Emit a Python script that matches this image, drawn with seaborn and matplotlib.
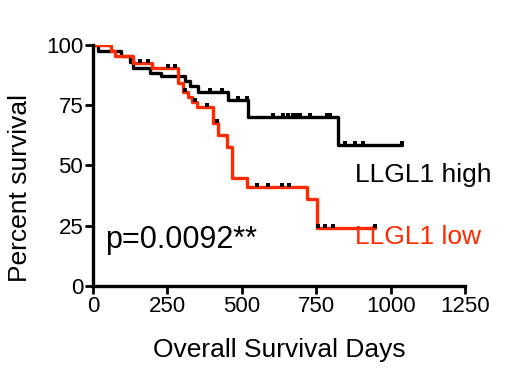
import numpy as np
import pandas as pd
from matplotlib import pyplot as plt
import seaborn as sns

# Kaplan-Meier steps (days, percent survival)
high_days = [0, 17, 94, 124, 135, 192, 228, 309, 326, 353, 454, 521, 823, 1038]
high_surv = [100, 97.5, 95.5, 93, 90.5, 88.5, 87, 85, 83, 80.5, 77, 70, 58.5, 58.5]
high_censor = [393, 433, 487, 517, 605, 638, 655, 672, 685, 696, 729, 786, 796,
               847, 880, 907, 1038]

low_days = [0, 60, 74, 134, 198, 286, 302, 319, 333, 349, 403, 420, 450, 467,
            517, 719, 753, 947]
low_surv = [100, 97.5, 95.5, 92.5, 90.5, 84, 80.5, 78.4, 76.3, 74.3, 67.6, 62.7,
            57.7, 44.8, 41, 36, 24, 24]
low_censor = [158, 185, 252, 276, 309, 343, 383, 417, 551, 588, 635, 659, 756,
              780, 806, 947]

x_ticks = [0, 250, 500, 750, 1000, 1250]
y_ticks = [0, 25, 50, 75, 100]

red = '#ff2a00'

sns.set_style('ticks', {'axes.edgecolor': 'black', 'xtick.color': 'black',
                        'ytick.color': 'black', 'text.color': 'black',
                        'axes.labelcolor': 'black'})
plt.rcParams['font.family'] = ['Liberation Sans', 'DejaVu Sans']

fig = plt.figure(figsize=(5.19, 3.87), dpi=100)
ax = fig.add_axes([0.179, 0.261, 0.717, 0.623])


def level_at(days, surv, t):
    i = np.searchsorted(days, t, side='right') - 1
    return np.array(surv)[i]


for days, surv, cens, col in [(high_days, high_surv, high_censor, 'black'),
                              (low_days, low_surv, low_censor, red)]:
    df = pd.DataFrame({'days': days, 'surv': surv})
    sns.lineplot(data=df, x='days', y='surv', drawstyle='steps-post',
                 color=col, lw=2.4, sort=False, estimator=None, ax=ax)
    cdf = pd.DataFrame({'days': cens,
                        'surv': level_at(days, surv, np.array(cens)) + 0.9})
    sns.scatterplot(data=cdf, x='days', y='surv', marker='s', s=10,
                    color='black', linewidth=0, ax=ax, zorder=5)

ax.set_xlim(0, 1250)
ax.set_ylim(0, 100)
ax.set_xticks(x_ticks)
ax.set_yticks(y_ticks)
ax.tick_params(labelsize=16, width=2, length=6, pad=1, colors='black')
for s in ['left', 'bottom']:
    ax.spines[s].set_linewidth(2.4)
sns.despine(ax=ax)
ax.set_xlabel('Overall Survival Days', fontsize=19, labelpad=15)
ax.set_ylabel('Percent survival', fontsize=19)
ax.yaxis.set_label_coords(-0.165, 0.405)

ax.text(880, 46, 'LLGL1 high', fontsize=19, va='center', color='black')
ax.text(880, 20.5, 'LLGL1 low', fontsize=19, va='center', color=red)
ax.text(40, 19, 'p=0.0092**', fontsize=22, va='center', color='black')

fig.savefig('out.png', dpi=100)
